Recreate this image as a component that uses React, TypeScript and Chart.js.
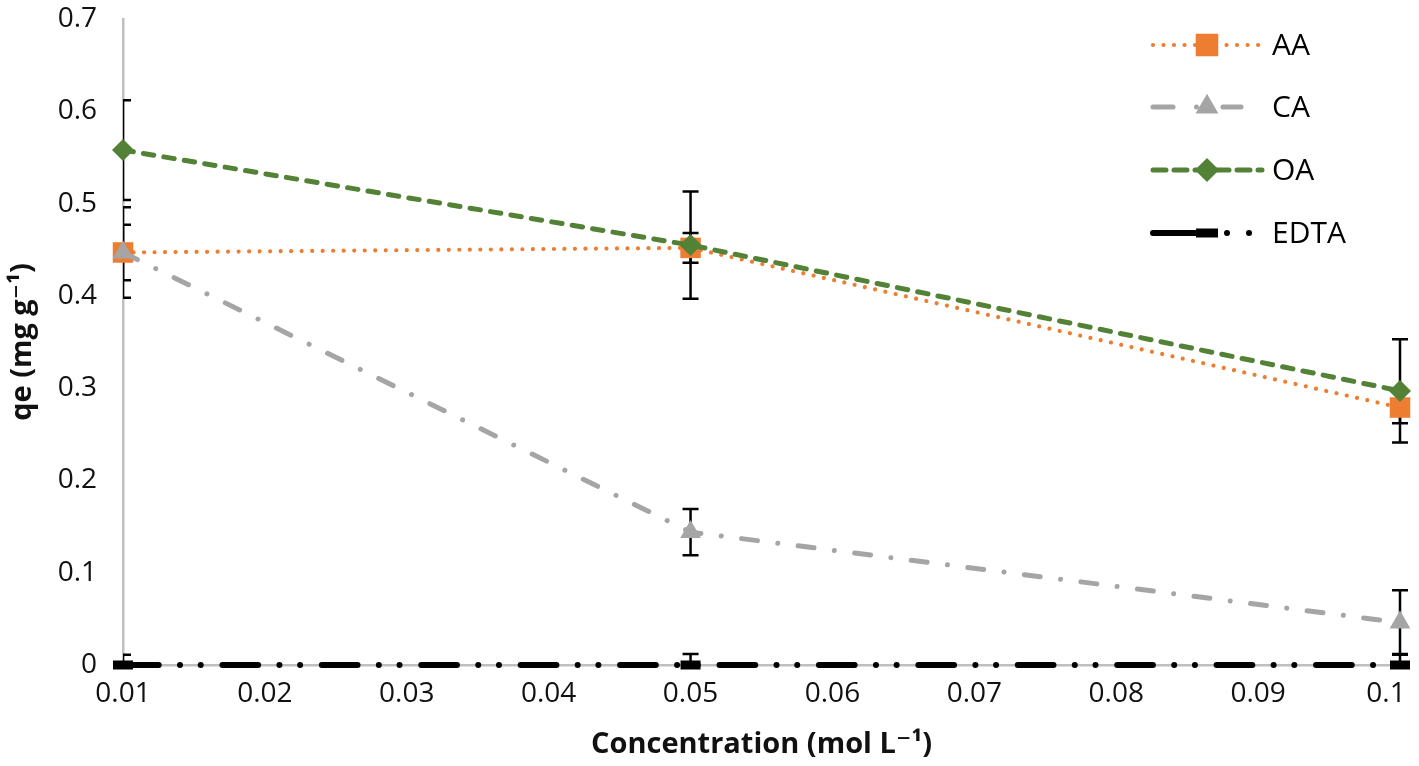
import React, { useEffect, useRef } from 'react';
import { Chart, registerables } from 'chart.js';

Chart.register(...registerables);

// ---- data ----
const concentrations = [0.01, 0.05, 0.1];
const xTickValues = [0.01, 0.02, 0.03, 0.04, 0.05, 0.06, 0.07, 0.08, 0.09, 0.1];
const yTickValues = [0, 0.1, 0.2, 0.3, 0.4, 0.5, 0.6, 0.7];

const aaValues = [0.447, 0.452, 0.279];
const aaErrors = [0.049, 0.016, 0.017];
const caValues = [0.447, 0.144, 0.046];
const caErrors = [0.03, 0.025, 0.035];
const oaValues = [0.558, 0.455, 0.297];
const oaErrors = [0.054, 0.058, 0.056];
const edtaValues = [0, 0, 0];
const edtaErrors = [0.011, 0.012, 0.012];

const seriesNames = ['AA', 'CA', 'OA', 'EDTA'];

const FONT = "'Open Sans', 'DejaVu Sans', sans-serif";

type Series = {
  name: string;
  values: number[];
  errors: number[];
  color: string;
  dash: number[];
  legendDash: number[];
  width: number;
  pointStyle: string;
  radius: number;
  pointBorderWidth: number;
  order: number;
};

const series: Series[] = [
  { name: seriesNames[0], values: aaValues, errors: aaErrors, color: '#ED7D31', dash: [0.01, 10.5], legendDash: [0.01, 10.5], width: 4.2, pointStyle: 'rect', radius: 14.5, pointBorderWidth: 0, order: 4 },
  { name: seriesNames[1], values: caValues, errors: caErrors, color: '#A5A5A5', dash: [16, 20.5, 0.01, 20.5], legendDash: [20, 23.5, 0.01, 26.5, 18, 100], width: 5, pointStyle: 'triangle', radius: 12, pointBorderWidth: 0, order: 3 },
  { name: seriesNames[2], values: oaValues, errors: oaErrors, color: '#538135', dash: [10.5, 10.2], legendDash: [13, 8], width: 5, pointStyle: 'rectRot', radius: 11, pointBorderWidth: 0, order: 2 },
  { name: seriesNames[3], values: edtaValues, errors: edtaErrors, color: '#000000', dash: [35.7, 21.3, 0.01, 20.7, 0.01, 21.7], legendDash: [58, 16, 0.01, 22, 0.01, 100], width: 6, pointStyle: 'line', radius: 10, pointBorderWidth: 9, order: 1 },
];

function drawMarker(ctx: CanvasRenderingContext2D, s: Series, x: number, y: number, scale = 1) {
  const r = s.radius * scale;
  ctx.save();
  ctx.setLineDash([]);
  ctx.fillStyle = s.color;
  ctx.strokeStyle = s.color;
  ctx.beginPath();
  if (s.pointStyle === 'rect') {
    const h = r * Math.SQRT1_2;
    ctx.rect(x - h, y - h, 2 * h, 2 * h);
    ctx.fill();
  } else if (s.pointStyle === 'triangle') {
    for (let k = 0; k < 3; k++) {
      const a = (k * 2 * Math.PI) / 3;
      const px = x + Math.sin(a) * r;
      const py = y - Math.cos(a) * r;
      if (k === 0) ctx.moveTo(px, py); else ctx.lineTo(px, py);
    }
    ctx.closePath();
    ctx.fill();
  } else if (s.pointStyle === 'rectRot') {
    ctx.moveTo(x, y - r);
    ctx.lineTo(x + r, y);
    ctx.lineTo(x, y + r);
    ctx.lineTo(x - r, y);
    ctx.closePath();
    ctx.fill();
  } else if (s.pointStyle === 'line') {
    ctx.lineWidth = s.pointBorderWidth;
    ctx.lineCap = 'butt';
    ctx.moveTo(x - r, y);
    ctx.lineTo(x + r, y);
    ctx.stroke();
  }
  ctx.restore();
}

const errorBarPlugin = {
  id: 'errorBars',
  beforeDatasetsDraw(chart: any) {
    const { ctx, chartArea } = chart;
    const xs = chart.scales.x;
    const ys = chart.scales.y;
    ctx.save();
    ctx.beginPath();
    ctx.rect(chartArea.left, 0, chart.width - chartArea.left, chartArea.bottom);
    ctx.clip();
    ctx.strokeStyle = '#000';
    ctx.lineWidth = 2.5;
    ctx.setLineDash([]);
    const cap = 8;
    series.forEach((s) => {
      s.values.forEach((v, i) => {
        const px = xs.getPixelForValue(concentrations[i]);
        const top = ys.getPixelForValue(v + s.errors[i]);
        const bot = ys.getPixelForValue(v - s.errors[i]);
        ctx.beginPath();
        ctx.moveTo(px, top);
        ctx.lineTo(px, bot);
        ctx.moveTo(px - cap, top);
        ctx.lineTo(px + cap, top);
        ctx.moveTo(px - cap, bot);
        ctx.lineTo(px + cap, bot);
        ctx.stroke();
      });
    });
    ctx.restore();
  },
};

const legendPlugin = {
  id: 'customLegend',
  afterDraw(chart: any) {
    const { ctx } = chart;
    const rows = [45, 107, 170, 233];
    const x1 = 1153;
    const x2 = 1262;
    const xm = 1207;
    ctx.save();
    series.forEach((s, i) => {
      const y = rows[i];
      ctx.beginPath();
      ctx.strokeStyle = s.color;
      ctx.lineWidth = s.width;
      ctx.lineCap = 'round';
      ctx.setLineDash(s.legendDash);
      ctx.moveTo(x1, y);
      ctx.lineTo(x2, y);
      ctx.stroke();
      drawMarker(ctx, s, xm, y, 1.1);
      ctx.setLineDash([]);
      ctx.fillStyle = '#000';
      ctx.font = `30px ${FONT}`;
      ctx.textBaseline = 'middle';
      ctx.textAlign = 'left';
      ctx.fillText(s.name, 1272, y + 1);
    });
    ctx.restore();
  },
};

export default function App() {
  const canvasRef = useRef<HTMLCanvasElement | null>(null);

  useEffect(() => {
    document.body.style.margin = '0';
    const canvas = canvasRef.current;
    if (!canvas) return;
    Chart.defaults.font.family = FONT;
    const lastTick = xTickValues[xTickValues.length - 1];
    const chart = new Chart(canvas, {
      type: 'line',
      data: {
        datasets: series.map((s) => ({
          label: s.name,
          data: s.values.map((v, i) => ({ x: concentrations[i], y: v })),
          borderColor: s.color,
          backgroundColor: s.color,
          borderWidth: s.width,
          borderDash: s.dash,
          borderCapStyle: 'round' as const,
          pointStyle: s.pointStyle as any,
          pointRadius: s.radius,
          pointHoverRadius: s.radius,
          pointBorderWidth: s.pointBorderWidth,
          pointBorderColor: s.color,
          pointBackgroundColor: s.color,
          tension: 0,
          fill: false,
          clip: false as any,
          order: s.order,
        })),
      },
      options: {
        animation: false,
        responsive: false,
        events: [],
        layout: { padding: { top: 18, right: 11, bottom: 0, left: 0 } },
        plugins: {
          legend: { display: false },
          tooltip: { enabled: false },
        },
        scales: {
          x: {
            type: 'linear',
            min: 0.01,
            max: 0.1,
            grid: { display: false, drawTicks: false },
            border: { display: true, color: '#BFBFBF', width: 2.5 },
            afterBuildTicks: (scale: any) => {
              scale.ticks = xTickValues.map((v) => ({ value: v }));
            },
            afterFit: (scale: any) => {
              scale.height = 101;
              scale.paddingLeft = 0;
              scale.paddingRight = 0;
            },
            ticks: {
              padding: 12,
              maxRotation: 0,
              autoSkip: false,
              color: '#111',
              font: { size: 28, family: FONT },
              callback: (value: any) => {
                const label = String(Number(Number(value).toFixed(2)));
                // keep the last label inside the canvas
                return Number(value) === lastTick ? label + '\u2002\u2002' : label;
              },
            },
            title: {
              display: true,
              text: 'Concentration (mol L⁻¹)',
              color: '#111',
              font: { size: 29, weight: 'bold', family: FONT },
              padding: { top: 0, bottom: 4 },
            },
          },
          y: {
            type: 'linear',
            min: 0,
            max: 0.7,
            grid: { display: false, drawTicks: false },
            border: { display: true, color: '#BFBFBF', width: 2.5 },
            afterBuildTicks: (scale: any) => {
              scale.ticks = yTickValues.map((v) => ({ value: v }));
            },
            afterFit: (scale: any) => {
              scale.width = 123;
              scale.paddingTop = 0;
              scale.paddingBottom = 0;
            },
            ticks: {
              padding: 26,
              color: '#111',
              font: { size: 28, family: FONT },
              callback: (value: any) => String(Number(Number(value).toFixed(2))),
            },
            title: {
              display: true,
              text: 'qe (mg g⁻¹)',
              color: '#111',
              font: { size: 29, weight: 'bold', family: FONT },
              padding: { top: 5, bottom: 0 },
            },
          },
        },
      },
      plugins: [errorBarPlugin, legendPlugin],
    });
    return () => chart.destroy();
  }, []);

  return (
    <div style={{ width: 1419, height: 766, background: '#fff' }}>
      <canvas ref={canvasRef} width={1419} height={766} style={{ display: 'block' }} />
    </div>
  );
}
